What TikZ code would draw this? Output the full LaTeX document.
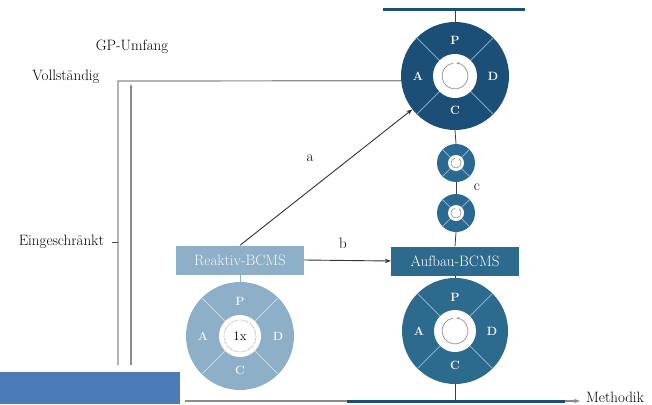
\documentclass[tikz,border=0pt]{standalone}
\usetikzlibrary{arrows.meta}
\definecolor{dkblue}{HTML}{1B4F78}
\definecolor{mdblue}{HTML}{2C6A8E}
\definecolor{smblue}{HTML}{2A6A92}
\definecolor{ltblue}{HTML}{8DB0C8}
\definecolor{rectblue}{HTML}{4A7BB7}
\definecolor{sepdk}{HTML}{7FA7C4}
\definecolor{sepmd}{HTML}{86B0CC}
\definecolor{seplt}{HTML}{C3D6E4}
\definecolor{axgray}{HTML}{8C8C8C}
\definecolor{cyc}{HTML}{9A8F86}
\newcommand\mypdca[7]{%
  \node[circle,fill=#4,minimum size=#3*2pt,inner sep=0pt] (#1) at (#2) {};
  \foreach \a in {45,135,225,315} \draw[#5,line width=1pt] (#1.center) ++(\a:#6pt) -- (#1.\a);
  \fill[white] (#1.center) circle[radius=#6];
}
\tikzset{
  txt/.style={font=\fontsize{15}{18}\selectfont,inner sep=1pt},
  sect/.style={font=\fontsize{12}{14}\selectfont\bfseries,inner sep=0pt},
  box/.style={rectangle,minimum width=128pt,minimum height=29pt,inner sep=2pt,font=\fontsize{15}{18}\selectfont},
  conn/.style={draw=black!75,line width=0.8pt},
  axis/.style={draw=axgray,line width=1.2pt},
}
\begin{document}
\begin{tikzpicture}[x=1pt,y=-1pt]
\useasboundingbox (0,0) rectangle (652,404);
% axes
\coordinate (V0) at (118,365);
\coordinate (Vt) at (118,81);
\coordinate (W0) at (131,365);
\coordinate (Wt) at (131,84);
\coordinate (Ax0) at (185,401);
\coordinate (Ax1) at (580,401);
\coordinate (Bb0) at (347,401);
\coordinate (Bb1) at (565,401);
\coordinate (Tb0) at (383,10);
\coordinate (Tb1) at (525,10);
% top circle
\mypdca{T}{455,76}{54}{dkblue}{sepdk}{22}{}
\node[sect,text=white] at ([shift={(0,-36)}]T.center) {P};
\node[sect,text=white] at ([shift={(-37,0)}]T.center) {A};
\node[sect,text=white] at ([shift={(38,0)}]T.center) {D};
\node[sect,text=white] at ([shift={(0,34)}]T.center) {C};
\draw[cyc,line width=0.7pt,-{Stealth[length=3pt]}] ([shift={(100:13pt)}]T.center) arc[start angle=100,end angle=445,radius=13pt];
% small circles
\mypdca{S1}{456,163}{19}{smblue}{sepmd}{8}{}
\mypdca{S2}{456,213}{19}{smblue}{sepmd}{8}{}
\draw[cyc,line width=0.6pt,-{Stealth[length=2pt]}] ([shift={(100:5pt)}]S1.center) arc[start angle=100,end angle=420,radius=5pt];
\draw[cyc,line width=0.6pt,-{Stealth[length=2pt]}] ([shift={(100:5pt)}]S2.center) arc[start angle=100,end angle=420,radius=5pt];
% boxes
\node[box,fill=mdblue,text=white] (Au) at (455,261) {Aufbau-BCMS};
\node[box,fill=ltblue,text=white!88!ltblue] (Re) at (240,260) {Reaktiv-BCMS};
% bottom circle
\mypdca{B}{455,331}{53}{mdblue}{sepmd}{21}{}
\node[sect,text=white] at ([shift={(0,-34)}]B.center) {P};
\node[sect,text=white] at ([shift={(-36,0)}]B.center) {A};
\node[sect,text=white] at ([shift={(37,0)}]B.center) {D};
\node[sect,text=white] at ([shift={(0,34)}]B.center) {C};
\draw[cyc,line width=0.7pt,-{Stealth[length=3pt]}] ([shift={(100:13pt)}]B.center) arc[start angle=100,end angle=445,radius=13pt];
% light circle
\mypdca{L}{240,336}{54}{ltblue}{seplt}{21}{}
\node[sect,text=white!85!ltblue] at ([shift={(0,-35)}]L.center) {P};
\node[sect,text=white!85!ltblue] at ([shift={(-37,0)}]L.center) {A};
\node[sect,text=white!85!ltblue] at ([shift={(38,0)}]L.center) {D};
\node[sect,text=white!85!ltblue] at ([shift={(0,34)}]L.center) {C};
\draw[black!45,densely dotted,line width=0.6pt] (L.center) circle[radius=16];
\node[font=\fontsize{13}{15}\selectfont,inner sep=0pt] (onex) at (L.center) {1x};
% connectors right column
\draw[conn] (T.north) -- (T.north |- Tb0);
\draw[conn] (T.south) -- (S1.north);
\draw[conn] (S1.south) -- (S2.north);
\draw[conn] (S2.south) -- (Au.north);
\draw[conn] (Au.south) -- (B.north);
\draw[draw=ltblue,line width=0.8pt] (Re.south) -- (L.north);
% bars
\draw[dkblue,line width=3pt] (Tb0) -- (Tb1);
\draw[axis,-{Stealth[length=6pt]}] (Ax0) -- (Ax1);
\draw[dkblue,line width=3pt] (Bb0) -- (Bb1);
\draw[conn] (B.south) -- (B.south |- Bb0);
% arrows a, b
\draw[black!80,line width=0.9pt,-{Stealth[length=6pt]}] (Re.north) -- (T.218);
\draw[black!80,line width=0.9pt,-{Stealth[length=6pt]}] (Re.east) -- (Au.west);
\node[txt] (la) at (310,158) {a};
\node[txt] (lb) at (343,243) {b};
\node[txt] (lc) at (477,187) {c};
% left axis
\draw[axis] (V0) -- (Vt) -- (T.185);
\draw[axis,-{Stealth[length=4pt]}] (W0) -- (Wt);
\coordinate (tk) at (118,242);
\draw[black!70,line width=0.8pt] (tk) -- ++(-6,0);
\node[txt] (gp) at (132,47) {GP-Umfang};
\node[txt] (vo) at (66,77) {Vollständig};
\node[txt,anchor=east] (ei) at (105,242) {Eingeschränkt};
\node[txt,anchor=west] (me) at (585,397) {Methodik};
% overlay rectangle
\fill[rectblue] (0,372) rectangle (180,404);
\end{tikzpicture}
\end{document}
